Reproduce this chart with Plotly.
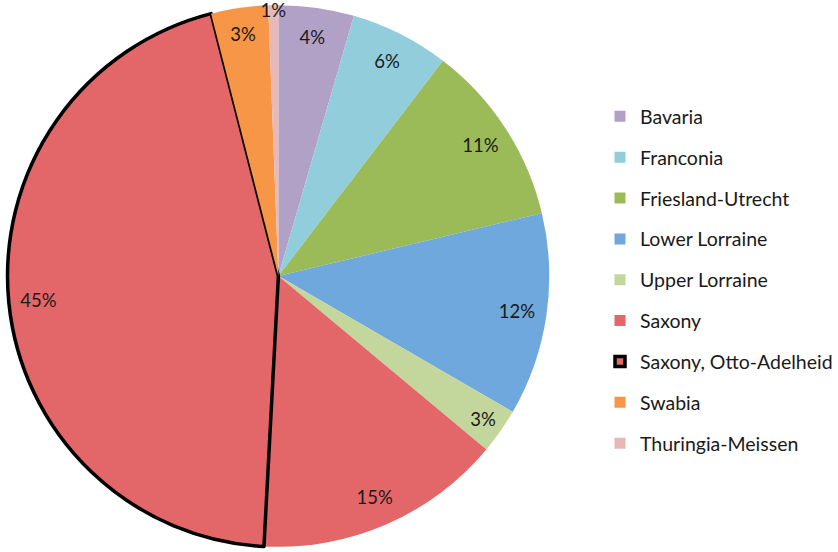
import plotly.graph_objects as go

regions = ["Bavaria", "Franconia", "Friesland-Utrecht", "Lower Lorraine", "Upper Lorraine",
           "Saxony", "Saxony, Otto-Adelheid", "Swabia", "Thuringia-Meissen"]
shares = [4.5, 5.9, 10.9, 12.1, 2.7, 14.8, 45.2, 3.4, 0.6]
colors = ["#B2A1C7", "#92CDDC", "#9BBB59", "#6FA8DC", "#C3D69B",
          "#E36669", "#E36669", "#F79646", "#E6B9B8"]
outline_w = [0, 0, 0, 0, 0, 0, 3.5, 0, 0]

FONT = "Lato"
dom = dict(x=[0.009, 0.657], y=[0.007, 0.993])

fig = go.Figure()
fig.add_trace(go.Pie(
    labels=regions, values=shares, sort=False, direction="clockwise", rotation=0,
    marker=dict(colors=colors, line=dict(color="black", width=outline_w)),
    textinfo="none", showlegend=False, domain=dom, hoverinfo="label+percent",
))
# transparent ring used only to place the percentage labels near the rim
fig.add_trace(go.Pie(
    labels=regions, values=shares, sort=False, direction="clockwise", rotation=0,
    hole=0.78,
    marker=dict(colors=["rgba(0,0,0,0)"] * len(regions), line=dict(width=0)),
    textinfo="percent", texttemplate="%{percent:.0%}", textposition="inside",
    insidetextorientation="horizontal",
    textfont=dict(family=FONT, size=18.5, color="#1a1a1a"),
    showlegend=False, domain=dom, hoverinfo="skip",
))
# legend entries
for name, c, w in zip(regions, colors, outline_w):
    fig.add_trace(go.Scatter(
        x=[None], y=[None], mode="markers", name=name, legendgroup=name,
        marker=dict(symbol="square", size=11 if w == 0 else 10, color=c,
                    line=dict(color="black", width=w)),
    ))

fig.update_layout(
    width=838, height=552,
    margin=dict(l=0, r=0, t=0, b=0),
    paper_bgcolor="white", plot_bgcolor="white",
    xaxis=dict(visible=False), yaxis=dict(visible=False),
    uniformtext=dict(minsize=18.5, mode="show"),
    legend=dict(x=0.718, y=0.824, xanchor="left", yanchor="top",
                font=dict(family=FONT, size=19.5, color="#1a1a1a"),
                tracegroupgap=12.5, traceorder="grouped",
                bgcolor="rgba(0,0,0,0)"),
    showlegend=True,
)
fig.write_html("out.html", config={"displayModeBar": False},
               post_script="document.body.style.margin='0';")
